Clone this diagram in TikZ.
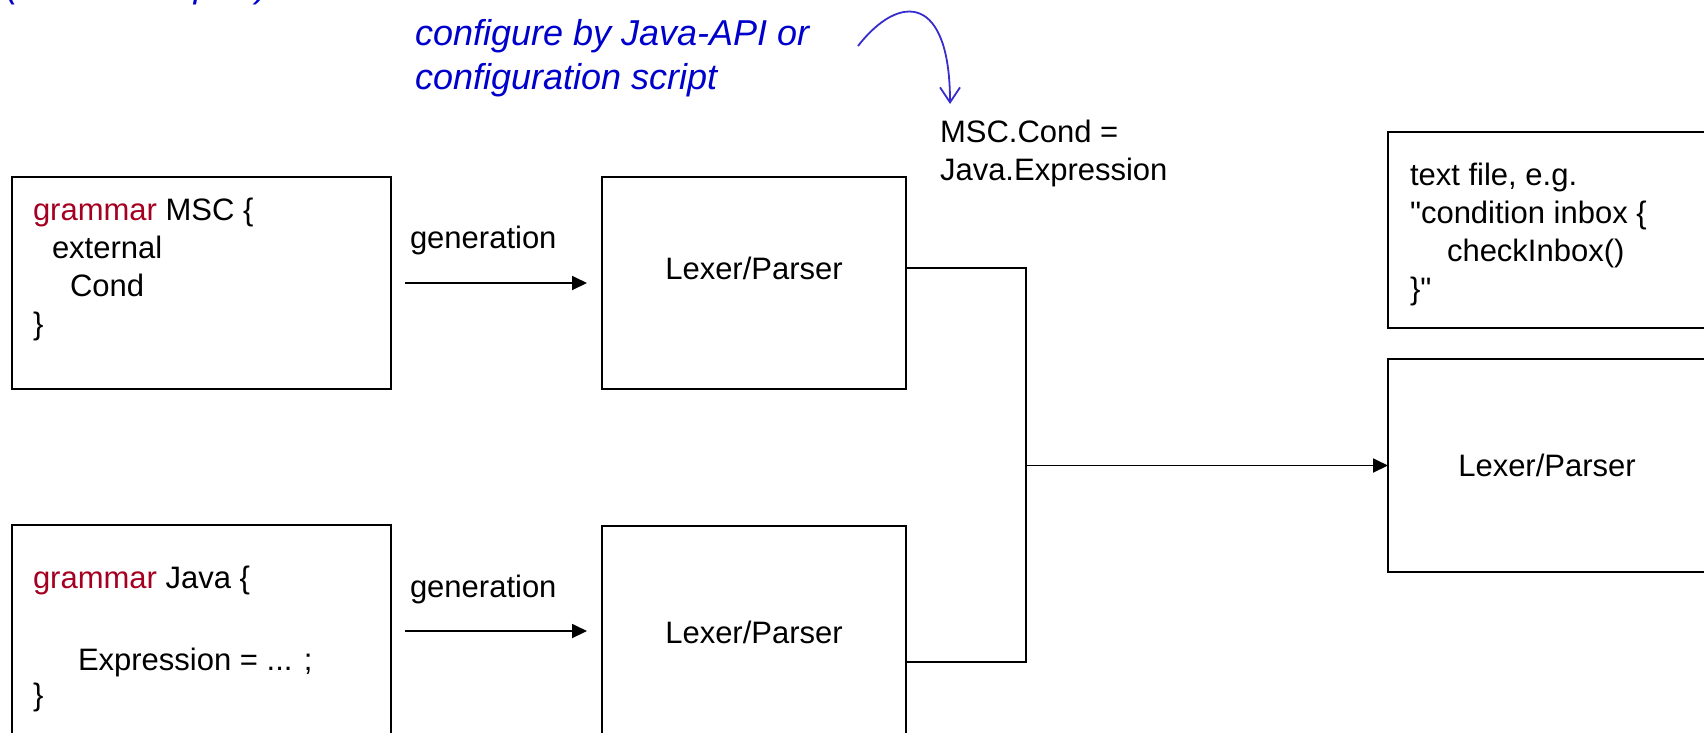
\documentclass[tikz,border=0pt]{standalone}
\usepackage{fontspec}
\setmainfont{Liberation Sans}[Ligatures=TeXOff]
\usetikzlibrary{arrows.meta}

\definecolor{kwred}{RGB}{165,0,33}
\definecolor{noteblue}{RGB}{0,0,204}
\definecolor{curveblue}{RGB}{55,45,205}

% stacked text lines with a fixed baseline distance; the node's base is the first line
\newcommand\stacklines[2]{\vtop{\baselineskip=#1\lineskiplimit=-100pt\lineskip=0pt #2}}
\newcommand\kw[1]{\textcolor{kwred}{#1}}

\begin{document}
\begin{tikzpicture}[x=1pt,y=-1pt,
  every node/.style={inner sep=0pt, outer sep=0pt},
  txt/.style={font=\fontsize{31}{38}\selectfont, anchor=base west},
  note/.style={font=\fontsize{36}{44}\selectfont\itshape, text=noteblue, anchor=base west},
  boxnode/.style={draw, line width=1.8pt, font=\fontsize{31}{38}\selectfont},
  flow/.style={line width=1.8pt},
  arr/.style={flow, -{Triangle[length=15pt,width=14pt]}},
  curvearr/.style={draw=curveblue, line width=1.8pt, -{Straight Barb[length=15pt,width=20pt]}}
]
\useasboundingbox (0,0) rectangle (1704,732);
\clip (0,0) rectangle (1704,732);

% grammar sources
\node[boxnode, minimum width=379pt, minimum height=212pt] (msc) at (201.5,283) {};
\node[boxnode, minimum width=379pt, minimum height=212pt] (java) at (201.5,631) {};
\node[txt] (msctxt) at (33,220) {\stacklines{38pt}{%
  \hbox{\kw{grammar} MSC \{}%
  \hbox{\hspace{19pt}external}%
  \hbox{\hspace{37pt}Cond}%
  \hbox{\}}}};
\node[txt] (javatxt) at (33,588) {\stacklines{41pt}{%
  \hbox{\kw{grammar} Java \{}%
  \hbox{}%
  \hbox{\hspace{45pt}Expression = ... ;}%
  \vskip -6pt
  \hbox{\}}}};

% generated lexers/parsers
\node[boxnode, minimum width=304pt, minimum height=212pt] (lex1) at (754,283) {};
\node[txt, anchor=base] (lex1txt) at ([yshift=4pt]lex1.center) {Lexer/Parser};
\node[boxnode, minimum width=304pt, minimum height=212pt] (lex2) at (754,632) {Lexer/Parser};

% generation steps
\node[txt] (gen1) at (410,248) {generation};
\node[txt] (gen2) at (410,597) {generation};
\draw[arr, shorten <=14pt, shorten >=15pt] (msc.east) -- (lex1.west);
\draw[arr, shorten <=14pt, shorten >=15pt] (java.east) -- (java.east -| lex2.west);

% composed language
\node[boxnode, minimum width=318pt, minimum height=196pt] (input) at (1547,230) {};
\node[txt] (inputtxt) at (1410,185) {\stacklines{38pt}{%
  \hbox{text file, e.g.}%
  \hbox{"condition inbox \{}%
  \hbox{\hspace{37pt}checkInbox()}%
  \hbox{\}"}}};
\node[boxnode, minimum width=318pt, minimum height=213pt] (lex3) at (1547,465.5) {Lexer/Parser};

% merging the two parsers
\coordinate (hub) at (1026,465.5);
\draw[flow] ([yshift=15pt]lex1.east) -| (hub) |- ([yshift=-30pt]lex2.east);
\draw[arr] (hub) -- (lex3.west);

% binding of the external nonterminal
\node[txt] (bind) at (940,142) {\stacklines{38pt}{%
  \hbox{MSC.Cond =}%
  \hbox{Java.Expression}}};

\node[note] (cfg) at (415,45) {\stacklines{44pt}{%
  \hbox{configure by Java-API or}%
  \hbox{configuration script}}};
\node[note] (topnote) at (6,-2.5) {(external import)};

\coordinate (cfgstart) at (858,46);
\coordinate (cfgend) at (950,104);
\draw[curvearr] (cfgstart) .. controls (900,-8) and (950,-5) .. (cfgend);
\end{tikzpicture}
\end{document}
